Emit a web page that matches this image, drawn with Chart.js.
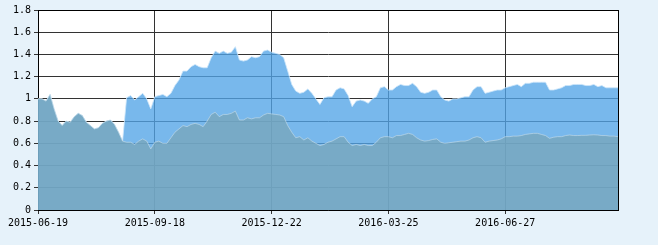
<!DOCTYPE html>
<html>
  <head>
    <script src="https://cdn.jsdelivr.net/npm/chart.js@4"></script>
    <style>
      html, body { margin: 0; padding: 0; background: #e6f2fa; }
    </style>
  </head>

  <body>
    <div style="width: 658px; height: 245px">
      <canvas id="canvas"></canvas>
    </div>
    <script>
      // tick labels every 29 samples along the x axis
      const tickDates = ['2015-06-19', '2015-09-18', '2015-12-22', '2016-03-25', '2016-06-27'];
      const tickStep = 29;

      // lower (grey-teal) series, one value per sample
      const lowerSeries = [
        1.00, 1.00, 0.98, 1.04, 0.91, 0.80, 0.76, 0.80, 0.79, 0.84,
        0.87, 0.85, 0.79, 0.76, 0.73, 0.74, 0.78, 0.80, 0.81, 0.77,
        0.70, 0.62, 0.61, 0.61, 0.59, 0.62, 0.64, 0.62, 0.55, 0.61,
        0.62, 0.60, 0.60, 0.65, 0.70, 0.73, 0.76, 0.75, 0.77, 0.78,
        0.77, 0.75, 0.80, 0.86, 0.88, 0.84, 0.86, 0.86, 0.87, 0.89,
        0.81, 0.81, 0.83, 0.82, 0.83, 0.83, 0.855, 0.87, 0.865, 0.86,
        0.855, 0.84, 0.76, 0.70, 0.65, 0.66, 0.63, 0.65, 0.62, 0.60,
        0.58, 0.59, 0.61, 0.62, 0.64, 0.66, 0.66, 0.61, 0.58, 0.59,
        0.58, 0.59, 0.58, 0.58, 0.61, 0.65, 0.66, 0.66, 0.65, 0.67,
        0.67, 0.68, 0.69, 0.68, 0.65, 0.63, 0.62, 0.625, 0.635, 0.64,
        0.61, 0.60, 0.605, 0.61, 0.615, 0.62, 0.62, 0.63, 0.65, 0.66,
        0.65, 0.61, 0.62, 0.625, 0.63, 0.64, 0.66, 0.66, 0.665, 0.665,
        0.67, 0.68, 0.685, 0.69, 0.69, 0.68, 0.67, 0.645, 0.655, 0.66,
        0.66, 0.67, 0.675, 0.67, 0.67, 0.672, 0.672, 0.675, 0.677, 0.675,
        0.67, 0.67, 0.665, 0.665, 0.66
      ];

      // upper (blue) series
      const upperSeries = [
        1.00, 1.00, 0.98, 1.04, 0.91, 0.80, 0.76, 0.80, 0.79, 0.84,
        0.87, 0.85, 0.79, 0.76, 0.73, 0.74, 0.78, 0.80, 0.81, 0.77,
        0.70, 0.62, 1.01, 1.03, 0.99, 1.02, 1.05, 1.00, 0.91, 1.02,
        1.03, 1.04, 1.02, 1.05, 1.12, 1.17, 1.25, 1.25, 1.29, 1.31,
        1.29, 1.28, 1.28, 1.37, 1.43, 1.41, 1.43, 1.41, 1.42, 1.47,
        1.35, 1.34, 1.35, 1.38, 1.37, 1.38, 1.43, 1.44, 1.42, 1.41,
        1.40, 1.37, 1.25, 1.13, 1.07, 1.05, 1.06, 1.09, 1.05, 1.00,
        0.95, 1.01, 1.02, 1.02, 1.08, 1.10, 1.09, 1.03, 0.93, 0.98,
        0.99, 0.98, 0.96, 1.00, 1.02, 1.10, 1.11, 1.08, 1.08, 1.11,
        1.13, 1.12, 1.12, 1.14, 1.11, 1.06, 1.05, 1.06, 1.08, 1.08,
        1.02, 0.99, 0.98, 1.00, 1.00, 1.01, 1.02, 1.02, 1.08, 1.11,
        1.11, 1.05, 1.06, 1.07, 1.08, 1.08, 1.10, 1.11, 1.12, 1.13,
        1.11, 1.14, 1.14, 1.15, 1.15, 1.15, 1.15, 1.08, 1.08, 1.09,
        1.10, 1.12, 1.12, 1.13, 1.13, 1.13, 1.12, 1.12, 1.13, 1.11,
        1.12, 1.10, 1.10, 1.10, 1.10
      ];

      const toPoints = (arr) => arr.map((v, i) => ({ x: i, y: v }));

      const background = {
        id: 'background',
        beforeDraw(chart) {
          const { ctx, chartArea: a } = chart;
          ctx.save();
          ctx.fillStyle = '#e6f2fa';
          ctx.fillRect(0, 0, chart.width, chart.height);
          ctx.fillStyle = '#ffffff';
          ctx.fillRect(a.left, a.top, a.right - a.left, a.bottom - a.top);
          ctx.restore();
        },
        afterDraw(chart) {
          const { ctx, chartArea: a } = chart;
          ctx.save();
          ctx.strokeStyle = '#000';
          ctx.lineWidth = 1;
          ctx.beginPath();
          ctx.moveTo(Math.round(a.right) + 0.5, a.top);
          ctx.lineTo(Math.round(a.right) + 0.5, a.bottom);
          ctx.moveTo(a.left, Math.round(a.top) + 0.5);
          ctx.lineTo(a.right, Math.round(a.top) + 0.5);
          ctx.stroke();
          ctx.restore();
        },
      };

      const font = { family: 'DejaVu Sans Mono', size: 10 };

      new Chart(document.getElementById('canvas').getContext('2d'), {
        type: 'line',
        data: {
          datasets: [
            {
              label: 'lower',
              data: toPoints(lowerSeries),
              backgroundColor: 'rgba(120,166,187,0.78)',
              borderColor: 'rgba(200,222,235,0.6)',
              borderWidth: 1,
              fill: 'origin',
              pointRadius: 0,
              tension: 0,
            },
            {
              label: 'upper',
              data: toPoints(upperSeries),
              backgroundColor: 'rgba(82,164,231,0.78)',
              borderColor: 'rgba(205,230,250,0.8)',
              borderWidth: 1,
              fill: 'origin',
              pointRadius: 0,
              tension: 0,
            },
          ],
        },
        options: {
          animation: false,
          responsive: true,
          maintainAspectRatio: false,
          layout: { padding: { top: 10, right: 40, left: 0, bottom: 0 } },
          plugins: {
            legend: { display: false },
            tooltip: { enabled: false },
          },
          scales: {
            x: {
              type: 'linear',
              min: 0,
              max: lowerSeries.length - 1,
              afterFit: (s) => { s.height = 35; },
              grid: { color: '#333', tickLength: 4, drawTicks: true },
              border: { color: '#000', width: 1 },
              ticks: {
                stepSize: tickStep,
                includeBounds: false,
                autoSkip: false,
                maxRotation: 0,
                padding: 3,
                color: '#000',
                font: font,
                callback: (v) => tickDates[v / tickStep] || '',
              },
            },
            y: {
              min: 0,
              max: 1.8,
              afterFit: (s) => { s.width = 38; },
              grid: { color: '#333', tickLength: 4 },
              border: { color: '#000', width: 1 },
              ticks: {
                stepSize: 0.2,
                padding: 3,
                color: '#000',
                font: font,
                callback: (v) => String(Number(v.toFixed(1))),
              },
            },
          },
        },
        plugins: [background],
      });
    </script>
  </body>
</html>
